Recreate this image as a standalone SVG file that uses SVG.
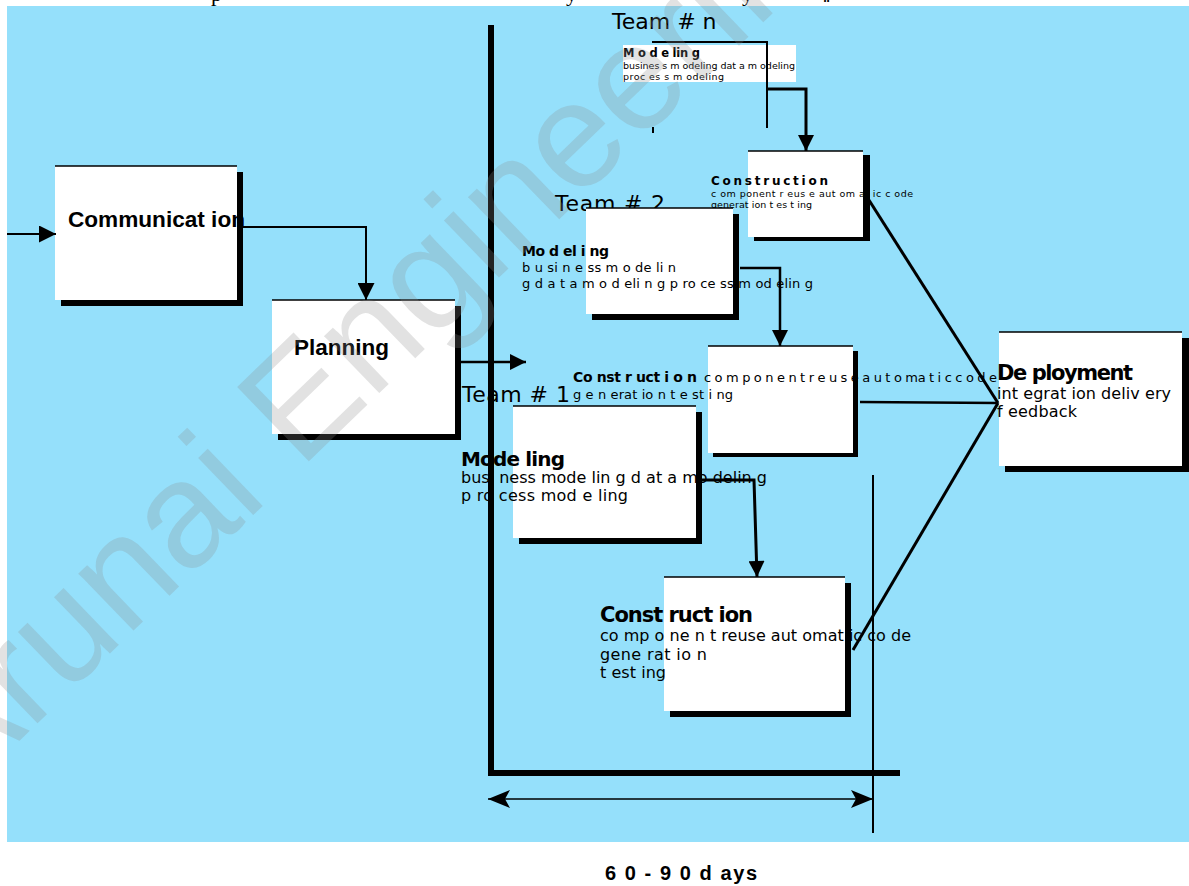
<svg xmlns="http://www.w3.org/2000/svg" width="1189" height="886" viewBox="0 0 1189 886" xml:space="preserve">
<style>
.bg{fill:#95e0fb}
.box{fill:#fff}
.shd{fill:#000}
.top{stroke:#000;stroke-width:1.5;fill:none}
.ar{font-family:"Liberation Sans",Arial,sans-serif;font-weight:bold;fill:#000}
.dv{font-family:"DejaVu Sans","Liberation Sans",sans-serif;fill:#000}
.dvb{font-family:"DejaVu Sans","Liberation Sans",sans-serif;font-weight:bold;fill:#000}
.team{font-family:"DejaVu Sans","Liberation Sans",sans-serif;font-size:22px;fill:#000}
.frag{font-family:"Liberation Serif","Times New Roman",serif;font-size:22px;fill:#000}
.ln{stroke:#000;fill:none;stroke-linejoin:miter}
.wm{font-family:"Liberation Sans",Arial,sans-serif;font-size:150px;fill:#8a8a8a;fill-opacity:0.25}
</style>
<defs>
<marker id="ah" viewBox="0 0 10 10" refX="10" refY="5" markerUnits="userSpaceOnUse" markerWidth="22" markerHeight="17" orient="auto"><path d="M0,0 L10,5 L0,10 z" fill="#000"/></marker>
<marker id="ahs" viewBox="0 0 10 10" refX="10" refY="5" markerUnits="userSpaceOnUse" markerWidth="23" markerHeight="16" orient="auto"><path d="M0,0 L10,5 L0,10 z" fill="#000"/></marker>
<marker id="st" viewBox="0 0 22 18" refX="22" refY="9" markerUnits="userSpaceOnUse" markerWidth="22" markerHeight="18" orient="auto-start-reverse"><path d="M0,0 L22,9 L0,18 L5,9 z" fill="#000"/></marker>
</defs>

<g id="fragments">
<text class="frag" x="211" y="1">p</text>
<text class="frag" x="566" y="1">y</text>
<text class="frag" x="742" y="1">y</text>
<text class="frag" x="823" y="2" font-weight="bold">‖</text>
</g>
<rect class="bg" x="7" y="6" width="1182" height="836"/>

<g id="frame">
<line class="ln" x1="491" y1="25" x2="491" y2="776" stroke-width="6"/>
<line class="ln" x1="488" y1="773" x2="900" y2="773" stroke-width="6"/>
<line class="ln" x1="873" y1="475" x2="873" y2="833" stroke-width="2"/>
<line class="ln" x1="488" y1="799" x2="873" y2="799" stroke-width="1.5" marker-start="url(#st)" marker-end="url(#st)"/>
<line class="ln" x1="653" y1="127" x2="653" y2="133" stroke-width="2"/>
</g>

<g id="team-labels">
<text class="team" x="612" y="29">Team # n</text>
<text class="team" x="555" y="211" textLength="110" lengthAdjust="spacing">Team # 2</text>
<text class="team" x="462" y="402" textLength="108" lengthAdjust="spacing">Team # 1</text>
</g>

<g id="communication">
<rect class="shd" x="61" y="172" width="182" height="134"/>
<rect class="box" x="55" y="166" width="182" height="134"/>
<path class="top" d="M55,166 H237"/>
<text class="ar" x="68" y="227" font-size="22" textLength="177" lengthAdjust="spacingAndGlyphs">Communicat ion</text>
</g>

<g id="planning">
<rect class="shd" x="278" y="306" width="183" height="134"/>
<rect class="box" x="272" y="300" width="183" height="134"/>
<path class="top" d="M272,300 H455"/>
<text class="ar" x="294" y="355" font-size="22" textLength="95" lengthAdjust="spacingAndGlyphs">Planning</text>
</g>

<g id="teamn-modeling">
<rect class="box" x="623" y="45" width="173" height="37"/>
<text class="dvb" x="623" y="57" font-size="11.5" textLength="77" lengthAdjust="spacing">M o d e lin g</text>
<text class="dv" x="623" y="69" font-size="9.5" textLength="172" lengthAdjust="spacing">busines s m odeling dat a  m odeling</text>
<text class="dv" x="623" y="80" font-size="9.5" textLength="101" lengthAdjust="spacing">proc es s    m odeling</text>
</g>

<g id="teamn-construction">
<rect class="shd" x="754" y="155" width="116" height="86"/>
<rect class="box" x="748" y="151" width="115" height="86"/>
<path class="top" d="M748,151 H863"/>
<text class="dvb" x="711" y="185" font-size="12" textLength="117" lengthAdjust="spacing">C o n s t r u c t i o n</text>
<text class="dv" x="711" y="197" font-size="9.5" textLength="202" lengthAdjust="spacing">c    om ponent   r eus e aut om at ic    c ode</text>
<text class="dv" x="711" y="208" font-size="9.5" textLength="101" lengthAdjust="spacing">generat  ion t es t ing</text>
</g>

<g id="team2-modeling">
<rect class="shd" x="592" y="214" width="147" height="106"/>
<rect class="box" x="586" y="208" width="147" height="106"/>
<path class="top" d="M586,208 H733"/>
<text class="dvb" x="522" y="256" font-size="14" textLength="87" lengthAdjust="spacing">Mo d el i ng</text>
<text class="dv" x="522" y="272" font-size="13" textLength="154" lengthAdjust="spacing">b u si n e ss m o de li n</text>
<text class="dv" x="522" y="288" font-size="13" textLength="291" lengthAdjust="spacing">g d a t a m o d eli n g p ro ce ss m od elin g</text>
</g>

<g id="team2-construction">
<rect class="shd" x="713" y="351" width="145" height="106"/>
<rect class="box" x="708" y="346" width="145" height="107"/>
<path class="top" d="M708,346 H853"/>
<text class="dvb" x="573" y="382" font-size="14" textLength="124" lengthAdjust="spacing">Co nst r uct i o n</text>
<text class="dv" x="704" y="382" font-size="13" textLength="293" lengthAdjust="spacing">c o m p o n e n t r e u s e  a u t o ma t i c c o d e</text>
<text class="dv" x="573" y="399" font-size="13" textLength="160" lengthAdjust="spacing">g e n erat io n t e st i ng</text>
</g>

<g id="team1-modeling">
<rect class="shd" x="519" y="412" width="183" height="132"/>
<rect class="box" x="513" y="406" width="183" height="132"/>
<path class="top" d="M513,406 H696"/>
<text class="dvb" x="461" y="466" font-size="20" textLength="104" lengthAdjust="spacing">Mode ling</text>
<text class="dv" x="461" y="483" font-size="16" textLength="306" lengthAdjust="spacing">busi ness  mode lin g d at a  mo delin g</text>
<text class="dv" x="461" y="501" font-size="16" textLength="167" lengthAdjust="spacing">p ro cess  mod e ling</text>
</g>

<g id="team1-construction">
<rect class="shd" x="670" y="583" width="181" height="134"/>
<rect class="box" x="664" y="577" width="181" height="134"/>
<path class="top" d="M664,577 H845"/>
<text class="dvb" x="600" y="622" font-size="21" textLength="153" lengthAdjust="spacing">Const ruct ion</text>
<text class="dv" x="600" y="641" font-size="16" textLength="311" lengthAdjust="spacing">co mp o ne n t reuse aut omat ic co de</text>
<text class="dv" x="600" y="660" font-size="16" textLength="107" lengthAdjust="spacing">gene rat io n</text>
<text class="dv" x="600" y="678" font-size="16" textLength="66" lengthAdjust="spacing">t est ing</text>
</g>

<g id="deployment">
<rect class="shd" x="1005" y="338" width="184" height="134"/>
<rect class="box" x="999" y="332" width="183" height="134"/>
<path class="top" d="M999,332 H1182"/>
<text class="dvb" x="997" y="380" font-size="21" textLength="136" lengthAdjust="spacing">De ployment</text>
<text class="dv" x="997" y="399" font-size="16" textLength="174" lengthAdjust="spacing">int egrat ion deliv ery</text>
<text class="dv" x="997" y="417" font-size="16" textLength="80" lengthAdjust="spacing">f eedback</text>
</g>

<g id="connectors">
<line class="ln" x1="7" y1="234" x2="56" y2="234" stroke-width="2" marker-end="url(#ah)"/>
<polyline class="ln" points="243,227 366,227 366,300" stroke-width="2" marker-end="url(#ah)"/>
<line class="ln" x1="461" y1="362" x2="526" y2="362" stroke-width="2.5" marker-end="url(#ahs)"/>
<polyline class="ln" points="652,42 767,42 767,128" stroke-width="2"/>
<polyline class="ln" points="767,89 806,89 806,151" stroke-width="3" marker-end="url(#ahs)"/>
<polyline class="ln" points="740,268 780,268 780,346" stroke-width="2.5" marker-end="url(#ahs)"/>
<polyline class="ln" points="700,480 754,480 757,577" stroke-width="3" marker-end="url(#ahs)"/>
<line class="ln" x1="867" y1="197" x2="998" y2="403" stroke-width="3"/>
<line class="ln" x1="860" y1="402" x2="998" y2="403" stroke-width="2.5"/>
<line class="ln" x1="853" y1="650" x2="998" y2="403" stroke-width="3"/>
</g>

<g id="caption">
<text class="ar" x="605" y="880" font-size="20" textLength="152" lengthAdjust="spacing">6 0 - 9 0 d ays</text>
</g>

<g id="watermark">
<text class="wm" transform="translate(-42,800) rotate(-44)">Arunai Engineering College</text>
</g>
</svg>
